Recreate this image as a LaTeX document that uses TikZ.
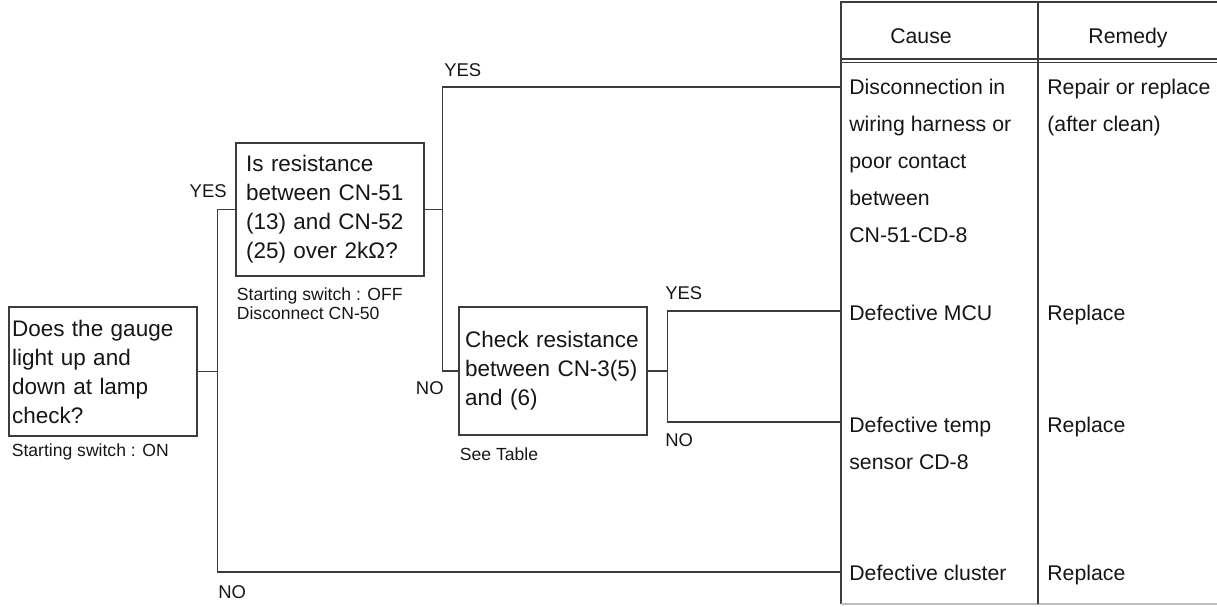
\documentclass[tikz,border=0pt]{standalone}
\usepackage{fontspec}
\setmainfont{Liberation Sans}
\usepackage{tikz}
\usetikzlibrary{positioning,calc}
\definecolor{wirecol}{HTML}{3C3C3C}
\definecolor{textcol}{HTML}{161616}
\definecolor{rulecol}{HTML}{BDBDBD}

\begin{document}
\begin{tikzpicture}[x=0.02cm,y=-0.02cm,
    wire/.style={draw=wirecol,line width=0.6pt},
    qbox/.style={draw=wirecol,line width=0.6pt,align=left,text=textcol,
      font=\fontsize{12.8}{16.5}\selectfont},
    note/.style={inner sep=0pt,align=left,text=textcol,
      font=\fontsize{10}{11}\selectfont},
    tag/.style={inner sep=0pt,text=textcol,font=\fontsize{10.5}{13}\selectfont},
    cell/.style={inner sep=0pt,align=left,text=textcol,
      font=\fontsize{12.1}{21}\selectfont}]
  \useasboundingbox (0,0) rectangle (1217,606);
  % question boxes
  \node[qbox,text width=3.64cm,inner xsep=0.06cm,minimum height=2.58cm] (gauge) at (103,371.5)
    {Does the gauge\\light up and\\down at lamp\\check?};
  \node[qbox,text width=3.36cm,inner xsep=0.2cm,minimum height=2.66cm] (resist) at (330,209.5)
    {Is resistance\\between CN-51\\(13) and CN-52\\(25) over 2kΩ?};
  \node[qbox,text width=3.52cm,inner xsep=0.12cm,minimum height=2.56cm] (check) at (553,371)
    {Check resistance\\between CN-3(5)\\and (6)};
  % notes under the boxes
  \node[note,below right=3.8pt and 1.7pt of gauge.south west] (onnote) {Starting switch : ON};
  \node[note,below right=6pt and 0.6pt of resist.south west] (offnote) {Starting switch : OFF\\Disconnect CN-50};
  \node[note,below right=6.5pt and 0.6pt of check.south west] (tablenote) {See Table};
  % table
  \coordinate (tl) at (841,2);
  \coordinate (tr) at (1217,2);
  \coordinate (bl) at (841,604);
  \coordinate (br) at (1217,604);
  \draw[wire] (tr) -- (tl) -- (bl);
  \draw[draw=rulecol,line width=0.6pt] (bl) -- (br);
  \draw[wire] (1038,2) -- (1038,604);
  \draw[wire] (841,59) -- (1217,59);
  \draw[wire] (841,62.5) -- (1217,62.5);
  \node[cell,anchor=base] (cause) at (921,43) {Cause};
  \node[cell,anchor=base] (remedy) at (1128,43) {Remedy};
  \node[cell,anchor=north west] (c1) at (849,79)
    {Disconnection in\\wiring harness or\\poor contact\\between\\CN-51-CD-8};
  \node[cell,anchor=north west] (r1) at (1047,79) {Repair or replace\\(after clean)};
  \node[cell,anchor=north west] (c2) at (849,305) {Defective MCU};
  \node[cell,anchor=north west] (r2) at (1047,305) {Replace};
  \node[cell,anchor=north west] (c3) at (849,417) {Defective temp\\sensor CD-8};
  \node[cell,anchor=north west] (r3) at (1047,417) {Replace};
  \node[cell,anchor=north west] (c4) at (849,565) {Defective cluster};
  \node[cell,anchor=north west] (r4) at (1047,565) {Replace};
  % branch ends on the table edge
  \coordinate (t1) at (841,87);
  \coordinate (t2) at (841,311);
  \coordinate (t3) at (841,422);
  \coordinate (t4) at (841,572);
  % connectors
  \coordinate (j1) at ($(gauge.east)+(20,0)$);
  \coordinate (j2) at ($(resist.east)+(18,0)$);
  \coordinate (j3) at ($(check.east)+(20,0)$);
  \draw[wire] (gauge.east) -- (j1);
  \draw[wire] (j1) |- (resist.west);
  \draw[wire] (j1) |- (t4);
  \draw[wire] (resist.east) -- (j2);
  \draw[wire] (j2) |- (t1);
  \draw[wire] (j2) |- (check.west);
  \draw[wire] (check.east) -- (j3);
  \draw[wire] (j3) |- (t2);
  \draw[wire] (j3) |- (t3);
  % yes / no
  \node[tag,anchor=east] (yes1) at (227,191) {YES};
  \node[tag,anchor=west] (no1) at (218,592) {NO};
  \node[tag,anchor=west] (yes2) at (444,70) {YES};
  \node[tag,anchor=east] (no2) at (444,388) {NO};
  \node[tag,anchor=west] (yes3) at (665,293) {YES};
  \node[tag,anchor=west] (no3) at (665,440) {NO};
\end{tikzpicture}
\end{document}
